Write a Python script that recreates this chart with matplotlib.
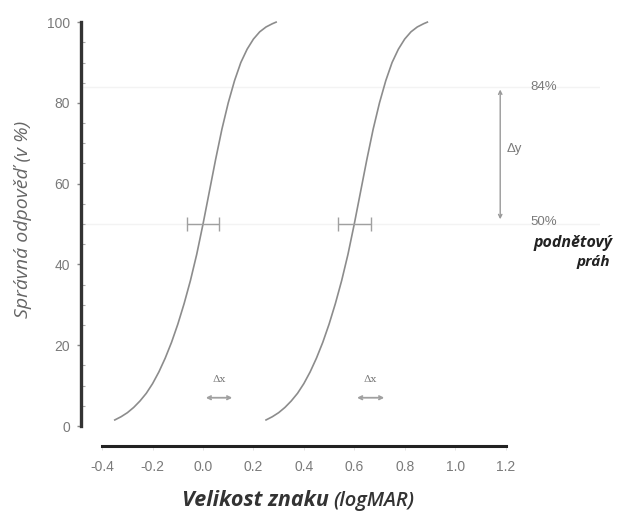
import matplotlib.pyplot as plt
import numpy as np

# curves (logMAR, % correct)
x1 = [-0.35, -0.325, -0.30, -0.275, -0.25, -0.225, -0.20, -0.175, -0.15, -0.125,
      -0.10, -0.075, -0.05, -0.025, 0.0, 0.025, 0.05, 0.075, 0.10, 0.125,
      0.15, 0.175, 0.20, 0.225, 0.25, 0.275, 0.29]
y1 = [1.5, 2.3, 3.3, 4.6, 6.2, 8.1, 10.5, 13.4, 16.8, 20.7,
      25.2, 30.3, 36, 42.5, 50, 58, 66, 73.5, 80, 85.5,
      90, 93.3, 95.8, 97.6, 98.8, 99.6, 100]
x2 = [0.25, 0.275, 0.30, 0.325, 0.35, 0.375, 0.40, 0.425, 0.45, 0.475,
      0.50, 0.525, 0.55, 0.575, 0.60, 0.625, 0.65, 0.675, 0.70, 0.725,
      0.75, 0.775, 0.80, 0.825, 0.85, 0.875, 0.89]
y2 = [1.5, 2.3, 3.3, 4.6, 6.2, 8.1, 10.5, 13.4, 16.8, 20.7,
      25.2, 30.3, 36, 42.5, 50, 58, 66, 73.5, 80, 85.5,
      90, 93.3, 95.8, 97.6, 98.8, 99.6, 100]

thresholds = [0.0, 0.6]
thr_err = [0.065, 0.065]
dx_start = [0.0, 0.6]
dx_end = [0.127, 0.73]

xticks = [-0.4, -0.2, 0.0, 0.2, 0.4, 0.6, 0.8, 1.0, 1.2]
xlabels = ['-0.4', '-0.2', '0.0', '0.2', '0.4', '0.6', '0.8', '1.0', '1.2']
yticks = [0, 20, 40, 60, 80, 100]

grey = '#8c8c8c'
txt = '#7a7a7a'

fig = plt.figure(figsize=(6.27, 5.13), dpi=100)
ax = fig.add_axes([0.1292, 0.1306, 0.8278, 0.8499])

# faint guide lines
for yy in [84, 50]:
    ax.axhline(yy, color='#f3f3f3', lw=1, zorder=0)

ax.plot(x1, y1, color=grey, lw=1.2)
ax.plot(x2, y2, color=grey, lw=1.2)

ax.errorbar(thresholds, [50, 50], xerr=thr_err, fmt='none', ecolor='#a0a0a0',
            elinewidth=1, capsize=5, capthick=1)

# delta x arrows
for s, e in zip(dx_start, dx_end):
    ax.annotate('', xy=(e, 7), xytext=(s, 7),
                arrowprops=dict(arrowstyle='<->', color='#a0a0a0', lw=1.3,
                                mutation_scale=6))
    ax.text((s + e) / 2, 10.3, 'Δx', ha='center', va='bottom', fontsize=7.5,
            color=txt, family='DejaVu Serif')

# delta y arrow
ax.annotate('', xy=(1.179, 84), xytext=(1.179, 50.5),
            arrowprops=dict(arrowstyle='<->', color='#999999', lw=1,
                            mutation_scale=6))
ax.text(1.205, 68.5, 'Δy', ha='left', va='center', fontsize=9.5, color=txt,
        family='Liberation Sans')
ax.text(1.30, 84, '84%', ha='left', va='center', fontsize=9.5, color=txt,
        family='Liberation Sans')
ax.text(1.30, 50.5, '50%', ha='left', va='center', fontsize=9.5, color=txt,
        family='Liberation Sans')
ax.text(1.31, 45.3, 'podnětový', ha='left', va='center', fontsize=11.5,
        fontweight='bold', style='italic', color='#222222', family='Open Sans')
ax.text(1.548, 40.6, 'práh', ha='center', va='center', fontsize=11,
        fontweight='bold', style='italic', color='#222222', family='Open Sans')

ax.set_xlim(-0.484, 1.575)
ax.set_ylim(-4.95, 103)

for s in ['top', 'right']:
    ax.spines[s].set_visible(False)
ax.spines['left'].set_bounds(0, 100)
ax.spines['left'].set_linewidth(2.4)
ax.spines['left'].set_color('#333333')
ax.spines['bottom'].set_bounds(-0.4, 1.2)
ax.spines['bottom'].set_linewidth(2.2)
ax.spines['bottom'].set_color('#222222')

ax.set_xticks(xticks)
ax.set_xticklabels(xlabels, family='Liberation Sans')
ax.set_yticks(yticks)
ax.set_yticklabels([str(v) for v in yticks], family='Liberation Sans')
ax.set_yticks(np.arange(0, 101, 5), minor=True)
ax.tick_params(axis='y', which='major', length=3, width=1, color='#888888',
               labelsize=10, labelcolor=txt, pad=5)
ax.tick_params(axis='y', which='minor', direction='in', length=3, width=0.8,
               color='#aaaaaa')
ax.tick_params(axis='x', length=3, width=0.6, color='#dddddd', labelsize=10,
               labelcolor=txt, pad=7)

ax.set_ylabel('Správná odpověď (v %)', fontsize=14, style='italic',
              color='#666666', family='Open Sans')
ax.yaxis.set_label_coords(-0.095, 0.52)

fig.text(0.29, 0.014, 'Velikost znaku', fontsize=15.5, fontweight='bold',
         style='italic', color='#333333', family='Open Sans', ha='left', va='baseline')
fig.text(0.531, 0.014, '(logMAR)', fontsize=14.5, fontweight='semibold',
         style='italic', color='#333333', family='Open Sans', ha='left', va='baseline')

fig.savefig('out.png', dpi=100)
